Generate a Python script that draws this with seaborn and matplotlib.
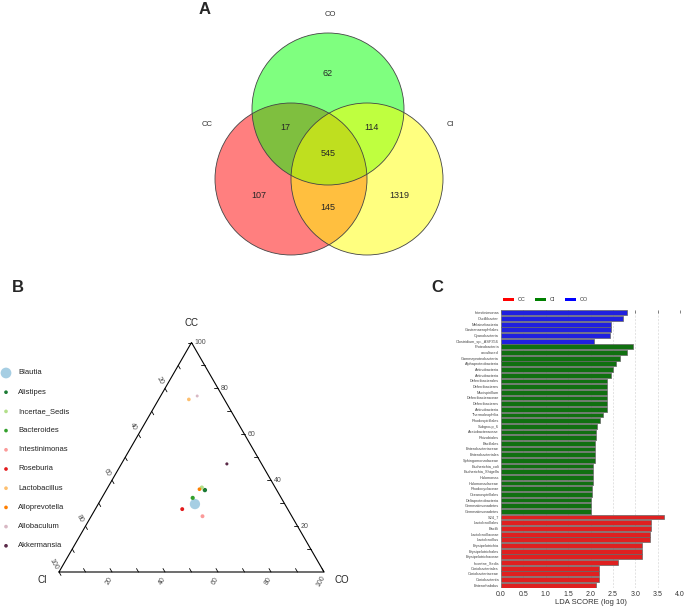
import numpy as np
import pandas as pd
import matplotlib.pyplot as plt
from matplotlib.patches import Circle, Rectangle
import seaborn as sns

sns.set_theme(style='white')
plt.rcParams['font.family'] = ['Liberation Sans', 'DejaVu Sans']

W, H = 685, 606

# ---- panel A: Venn counts ----
venn_regions = ['CC', 'CO', 'CI', 'CC&CO', 'CO&CI', 'CC&CI', 'CC&CO&CI']
venn_counts = [107, 62, 1319, 17, 114, 145, 545]

# ---- panel B: ternary (percent in each group) ----
genera = ['Blautia', 'Alistipes', 'Incertae_Sedis', 'Bacteroides', 'Intestinimonas',
          'Roseburia', 'Lactobacillus', 'Alloprevotella', 'Allobaculum', 'Akkermansia']
pct_CC = [29.6, 35.7, 36.8, 32.3, 24.3, 27.4, 75.2, 36.1, 76.7, 47.1]
pct_CO = [36.5, 37.2, 35.5, 34.3, 42.0, 32.8, 11.4, 35.0, 13.8, 39.8]
pct_CI = [33.9, 27.1, 27.7, 33.4, 33.7, 39.8, 13.4, 29.0, 9.5, 13.1]

# ---- panel C: LEfSe LDA scores ----
names_CO = ['Intestinimonas', 'Oscillibacter', 'Melainabacteria', 'Gastranaerophilales',
            'Cyanobacteria', 'Clostridium_sp._ASF356']
lda_CO = [2.81, 2.73, 2.45, 2.45, 2.44, 2.08]
names_CI = ['Proteobacteria', 'uncultured', 'Gammaproteobacteria', 'Alphaproteobacteria',
            'Actinobacteria', 'Actinobacteria', 'Deferribacterales', 'Deferribacteres',
            'Mucispirillum', 'Deferribacteraceae', 'Deferribacteres', 'Actinobacteria',
            'Thermoleophilia', 'Rhodospirillales', 'Subgroup_6', 'Acetobacteraceae',
            'Rhizobiales', 'Bacillales', 'Enterobacteriaceae', 'Enterobacteriales',
            'Sphingomonadaceae', 'Escherichia_coli', 'Escherichia_Shigella', 'Halomonas',
            'Halomonadaceae', 'Rhodocyclaceae', 'Oceanospirillales', 'Deltaproteobacteria',
            'Gemmatimonadetes', 'Gemmatimonadetes']
lda_CI = [2.95, 2.82, 2.65, 2.58, 2.50, 2.46, 2.36, 2.36, 2.36, 2.36, 2.36, 2.36,
          2.27, 2.21, 2.14, 2.13, 2.12, 2.10, 2.10, 2.10, 2.09, 2.05, 2.05, 2.05,
          2.05, 2.04, 2.04, 2.02, 2.02, 2.02]
names_CC = ['S24_7', 'Lactobacillales', 'Bacilli', 'Lactobacillaceae', 'Lactobacillus',
            'Erysipelotrichia', 'Erysipelotrichales', 'Erysipelotrichaceae', 'Incertae_Sedis',
            'Coriobacteriales', 'Coriobacteriaceae', 'Coriobacteriia', 'Enterorhabdus']
lda_CC = [3.64, 3.35, 3.35, 3.34, 3.34, 3.14, 3.14, 3.14, 2.62, 2.18, 2.18, 2.18, 2.12]

fig = plt.figure(figsize=(W / 100, H / 100), dpi=100)


def px_axes(x0, y0, x1, y1):
    return fig.add_axes([x0 / W, 1 - y1 / H, (x1 - x0) / W, (y1 - y0) / H])


# ---------- panel B: ternary ----------
axb = px_axes(0, 300, 360, 606)
axb.set_xlim((0 - 59) / 265, (360 - 59) / 265)
axb.set_ylim((572 - 606) / 265, (572 - 300) / 265)
axb.axis('off')
s3 = np.sqrt(3) / 2
axb.plot([0, 1, 0.5, 0], [0, 0, s3, 0], color='black', lw=0.8)

tick_col = '#4D4D4D'
for i in range(1, 11):
    v = i / 10
    # CC axis, right edge
    p = np.array([1 - v / 2, v * s3])
    axb.plot([p[0], p[0] - 0.015], [p[1], p[1]], color='black', lw=0.6)
    # CI axis, left edge
    q = np.array([(1 - v) / 2, (1 - v) * s3])
    d = np.array([0.5, -s3])
    axb.plot([q[0], q[0] + 0.015 * d[0]], [q[1], q[1] + 0.015 * d[1]], color='black', lw=0.6)
    # CO axis, bottom edge
    r = np.array([v, 0])
    e = np.array([-0.5, s3])
    axb.plot([r[0], r[0] + 0.015 * e[0]], [r[1], r[1] + 0.015 * e[1]], color='black', lw=0.6)
    if i % 2 == 0:
        lab = f'{int(round(v * 100))}'
        axb.text(p[0] + 0.012, p[1], lab, fontsize=5, color=tick_col, ha='left', va='center')
        axb.text(q[0] - 0.02, q[1] + 0.03, lab, fontsize=5, color=tick_col,
                 ha='center', va='center', rotation=-60)
        axb.text(r[0] - 0.01, r[1] - 0.035, lab, fontsize=5, color=tick_col,
                 ha='center', va='center', rotation=60)

axb.text(0.5, 0.94, 'CC', fontsize=7, ha='center', va='center')
axb.text(-0.064, -0.03, 'CI', fontsize=7, ha='center', va='center')
axb.text(1.068, -0.03, 'CO', fontsize=7, ha='center', va='center')

tern = pd.DataFrame({'genus': genera, 'CC': pct_CC, 'CO': pct_CO, 'CI': pct_CI})
tot = tern[['CC', 'CO', 'CI']].sum(axis=1)
tern['x'] = tern['CO'] / tot + 0.5 * tern['CC'] / tot
tern['y'] = s3 * tern['CC'] / tot

genus_colors = {'Blautia': '#A6CEE3', 'Alistipes': '#1B7A34', 'Incertae_Sedis': '#B2DF8A',
                'Bacteroides': '#33A02C', 'Intestinimonas': '#FB9A99', 'Roseburia': '#E31A1C',
                'Lactobacillus': '#FDBF6F', 'Alloprevotella': '#FF7F00',
                'Allobaculum': '#D8B8C4', 'Akkermansia': '#5A2A48'}
genus_sizes = {'Blautia': 55, 'Alistipes': 10, 'Incertae_Sedis': 9, 'Bacteroides': 9,
               'Intestinimonas': 8, 'Roseburia': 8, 'Lactobacillus': 7,
               'Alloprevotella': 7, 'Allobaculum': 4.5, 'Akkermansia': 5}
sns.scatterplot(data=tern, x='x', y='y', hue='genus', palette=genus_colors,
                size='genus', sizes=genus_sizes, edgecolor='none', legend=False, ax=axb)
axb.set_xlabel('')
axb.set_ylabel('')

# ---------- panel C: LDA bars ----------
lda = pd.DataFrame({
    'name': names_CO + names_CI + names_CC,
    'score': lda_CO + lda_CI + lda_CC,
    'group': ['CO'] * len(names_CO) + ['CI'] * len(names_CI) + ['CC'] * len(names_CC),
})
lda['pos'] = [str(i) for i in range(len(lda))]
group_colors = {'CC': '#FF0000', 'CI': '#008000', 'CO': '#0000FF'}

axc = px_axes(501, 310, 680, 588)
axc.xaxis.grid(True, color='#D8D8D8', lw=0.5, ls=(0, (3, 2)))
axc.set_axisbelow(True)
sns.barplot(data=lda, x='score', y='pos', hue='group', palette=group_colors, order=list(lda['pos']),
            orient='h', dodge=False, width=0.85, edgecolor='#666666', linewidth=0.5,
            legend=False, ax=axc)
axc.set_xlim(0, 4.0)
axc.set_ylim(len(lda) - 0.5, -0.5)
axc.set_yticks(range(len(lda)))
axc.set_yticklabels(lda['name'], fontsize=2.8, color='#444444')
axc.set_xticks(np.arange(0, 4.01, 0.5))
axc.set_xticklabels([f'{t:.1f}' for t in np.arange(0, 4.01, 0.5)], fontsize=5, color='#333333')
axc.tick_params(axis='y', length=0, pad=1.5)
axc.tick_params(axis='x', top=True, bottom=False, direction='in', length=2, width=0.4,
                labeltop=False, pad=2)
axc.set_xlabel('LDA SCORE (log 10)', fontsize=5.5, labelpad=1, color='#333333')
axc.set_ylabel('')
for sp in axc.spines.values():
    sp.set_visible(False)

# ---------- overlay in pixel units: Venn, legends, panel letters ----------
ov = fig.add_axes([0, 0, 1, 1])
ov.set_xlim(0, W)
ov.set_ylim(H, 0)
ov.axis('off')

circles = {'CC': ((291, 179), 'red'), 'CO': ((328, 109), 'lime'), 'CI': ((367, 179), 'yellow')}
for key in ['CC', 'CO', 'CI']:
    c, col = circles[key]
    ov.add_patch(Circle(c, 76, facecolor=col, alpha=0.5, edgecolor='none'))
for key in ['CC', 'CO', 'CI']:
    c, col = circles[key]
    ov.add_patch(Circle(c, 76, fill=False, edgecolor='#444444', lw=0.6))

region_xy = {'CC': (259, 196), 'CO': (328, 73), 'CI': (399, 196), 'CC&CO': (285, 128),
             'CO&CI': (372, 128), 'CC&CI': (328, 207), 'CC&CO&CI': (328, 154)}
for reg, n in zip(venn_regions, venn_counts):
    ov.text(*region_xy[reg], str(n), fontsize=6.5, ha='center', va='center')
ov.text(330, 15, 'CO', fontsize=5.5, ha='center', va='center', color='#333333')
ov.text(207, 125, 'CC', fontsize=5.5, ha='center', va='center', color='#333333')
ov.text(450, 125, 'CI', fontsize=5.5, ha='center', va='center', color='#333333')

# legend for panel B
for i, g in enumerate(genera):
    yy = 373 + i * 19.2
    ov.scatter(6, yy, s=60 if g == 'Blautia' else 7, color=genus_colors[g], edgecolor='none')
    ov.text(18, yy, g, fontsize=5.5, ha='left', va='center', color='#222222')

# legend for panel C
for (x0, lab) in [(503, 'CC'), (535, 'CI'), (565, 'CO')]:
    ov.add_patch(Rectangle((x0, 297.5), 11, 3.5, facecolor=group_colors[lab], edgecolor='none'))
    ov.text(x0 + 15, 299.3, lab, fontsize=4, ha='left', va='center', color='#333333')

ov.text(205, 10, 'A', fontsize=12, fontweight='bold', ha='center', va='center')
ov.text(18, 287, 'B', fontsize=12, fontweight='bold', ha='center', va='center')
ov.text(437, 287, 'C', fontsize=12, fontweight='bold', ha='center', va='center')

fig.savefig('out.png', dpi=100)
